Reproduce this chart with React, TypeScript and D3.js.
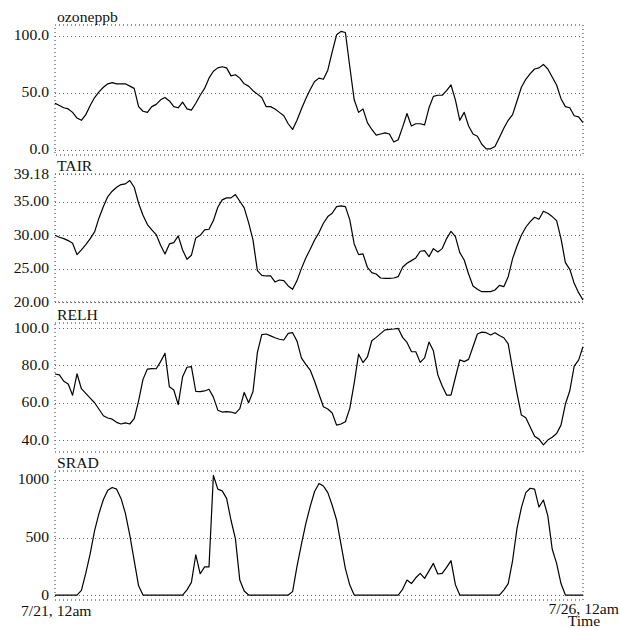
import React, { useEffect, useRef } from "react";
import * as d3 from "d3";

const width = 620;
const height = 628;
const left = 55;
const right = 583;

// hourly readings, 7/21 12am through 7/26 12am
const ozoneppb = [
  41, 39, 37, 36, 33, 28, 26, 31, 39, 46,
  51, 55, 58, 59, 58, 58, 58, 56, 54, 38,
  34, 33, 38, 40, 44, 46, 43, 38, 37, 42,
  36, 35, 41, 48, 54, 63, 69, 72, 73, 72,
  65, 66, 63, 58, 56, 52, 49, 46, 38, 38,
  36, 33, 30, 23, 18, 26, 36, 45, 53, 60,
  63, 62, 70, 86, 101, 104, 103, 73, 44, 33,
  36, 24, 18, 13, 14, 15, 14, 7, 9, 20,
  32, 21, 23, 23, 22, 37, 47, 48, 48, 52,
  57, 44, 26, 33, 21, 14, 12, 5, 1, 1,
  3, 11, 19, 26, 31, 43, 55, 62, 67, 71,
  72, 75, 71, 64, 57, 45, 38, 37, 30, 29,
  24,
];

const TAIR = [
  30.0, 29.7, 29.5, 29.2, 28.8, 27.1, 27.8, 28.6, 29.5, 30.5,
  32.6, 34.3, 35.8, 36.6, 37.2, 37.6, 37.7, 38.2, 37.2, 34.8,
  33.0, 31.6, 30.8, 30.1, 28.5, 27.2, 28.7, 28.9, 29.9, 27.8,
  26.4, 27.0, 29.6, 30.0, 30.8, 30.9, 32.2, 34.2, 35.3, 35.6,
  35.6, 36.1, 35.1, 34.1, 31.9, 29.3, 24.7, 24.0, 23.9, 23.9,
  23.0, 23.3, 23.2, 22.4, 21.9, 23.2, 25.0, 26.6, 27.9, 29.3,
  30.4, 31.8, 32.8, 33.3, 34.3, 34.4, 34.3, 32.3, 28.7, 27.1,
  27.2, 25.2, 24.4, 24.2, 23.6, 23.55, 23.55, 23.6, 23.8, 25.2,
  25.8, 26.2, 26.6, 27.6, 27.7, 26.8, 28.0, 27.5, 28.0, 29.5,
  30.6, 29.8, 27.4, 26.3, 24.2, 22.4, 21.9, 21.55, 21.55, 21.55,
  21.8, 22.5, 22.3, 23.8, 26.5, 28.4, 30.0, 31.2, 32.05, 32.7,
  32.4, 33.6, 33.3, 32.8, 32.2, 29.5, 25.9, 24.9, 22.8, 21.4,
  20.3,
];

const RELH = [
  75.4, 74.9, 71.5, 70, 64, 75.5, 67.5, 65, 62.5, 60,
  56.5, 53, 51.8, 51.2, 49.5, 48.6, 49.2, 48.6, 51.5, 61,
  72.5, 78, 78.3, 78.2, 82, 86.5, 68.5, 66.8, 59, 73.9,
  79, 79.3, 66, 65.9, 66.3, 67.2, 63, 56, 55, 55.2,
  55, 54.3, 56.8, 65.5, 60, 66, 87, 96.5, 96.8, 95.8,
  94.8, 94, 93.6, 97.1, 97.5, 93, 84, 80.5, 77.5, 71.5,
  64.5, 57.8, 56.6, 54.5, 48, 48.6, 49.8, 57, 70.5, 86,
  81.5, 84.5, 93.2, 95, 97, 99, 99.3, 99.5, 99.8, 95,
  92.3, 87.4, 87.3, 81.6, 84, 92.5, 87.8, 75, 69, 64.1,
  64.1, 73.5, 83, 82, 83.2, 90, 96.8, 97.8, 97.5, 96.3,
  97.5, 96, 94.8, 91.5, 78, 65, 53.4, 52, 47, 42,
  40.5, 37.4, 40, 41.5, 43.5, 48, 59.3, 66.4, 79.6, 82.8,
  90,
];

const SRAD = [
  0, 0, 0, 0, 0, 0, 40, 190, 360, 560,
  710, 830, 910, 935, 920, 840, 710, 520, 300, 80,
  0, 0, 0, 0, 0, 0, 0, 0, 0, 0,
  45, 110, 350, 185, 245, 245, 1040, 920, 905, 840,
  650, 490, 130, 35, 0, 0, 0, 0, 0, 0,
  0, 0, 0, 0, 30, 250, 440, 620, 770, 900,
  970, 948, 890, 780, 652, 440, 230, 87, 0, 0,
  0, 0, 0, 0, 0, 0, 0, 0, 0, 50,
  130, 100, 150, 188, 145, 210, 275, 183, 188, 240,
  299, 90, 0, 0, 0, 0, 0, 0, 0, 0,
  0, 0, 43, 100, 300, 580, 760, 890, 928, 920,
  765, 826, 690, 400, 275, 100, 0, 0, 0, 0,
  0,
];

const ozoneTicks = [0, 50, 100];
const tairTicks = [20, 25, 30, 35, 39.18];
const relhTicks = [40, 60, 80, 100];
const sradTicks = [0, 500, 1000];

const startLabel = "7/21, 12am";
const endLabel = "7/26, 12am";
const axisTitle = "Time";

const start = new Date(2003, 6, 21, 0, 0);
const end = new Date(2003, 6, 26, 0, 0);

const panels = [
  { name: "ozoneppb", values: ozoneppb, domain: [-4.4, 109.6], ticks: ozoneTicks, fmt: d3.format(".1f"), top: 25, bottom: 155 },
  { name: "TAIR", values: TAIR, domain: [20, 39.18], ticks: tairTicks, fmt: d3.format(".2f"), top: 174, bottom: 302 },
  { name: "RELH", values: RELH, domain: [33.6, 102.7], ticks: relhTicks, fmt: d3.format(".1f"), top: 323, bottom: 452 },
  { name: "SRAD", values: SRAD, domain: [-43, 1078], ticks: sradTicks, fmt: d3.format("d"), top: 471, bottom: 600 },
];

const font = "Liberation Serif, Times New Roman, Times, serif";
const fontSize = 14;
const stretch = 1.12;

export default function App() {
  const ref = useRef<SVGSVGElement>(null);

  useEffect(() => {
    const svg = d3.select(ref.current);
    svg.selectAll("*").remove();

    const x = d3.scaleTime().domain([start, end]).range([left, right]);

    const label = (g: any, tx: number, ty: number, anchor: string, txt: string) =>
      g.append("text")
        .attr("transform", `translate(${tx},${ty}) scale(${stretch},1)`)
        .attr("text-anchor", anchor)
        .style("font-family", font)
        .style("font-size", fontSize + "px")
        .attr("fill", "#111")
        .text(txt);

    panels.forEach((p) => {
      const y = d3.scaleLinear().domain(p.domain).range([p.bottom, p.top]);
      const g = svg.append("g");

      g.append("rect")
        .attr("x", left)
        .attr("y", p.top)
        .attr("width", right - left)
        .attr("height", p.bottom - p.top)
        .attr("fill", "none")
        .attr("stroke", "#333")
        .attr("stroke-dasharray", "1,3");

      g.selectAll(".grid")
        .data(p.ticks)
        .join("line")
        .attr("class", "grid")
        .attr("x1", left)
        .attr("x2", right)
        .attr("y1", (d) => Math.round(y(d)) + 0.5)
        .attr("y2", (d) => Math.round(y(d)) + 0.5)
        .attr("stroke", "#666")
        .attr("stroke-dasharray", "1,3");

      p.ticks.forEach((t) => label(g, 49, y(t) + 4.5, "end", p.fmt(t)));

      label(g, left + 2, p.top - 3, "start", p.name);

      const line = d3.line<number>()
        .x((d, i) => x(d3.timeHour.offset(start, i)))
        .y((d) => y(d));

      g.append("path")
        .datum(p.values)
        .attr("fill", "none")
        .attr("stroke", "#000")
        .attr("stroke-width", 1.2)
        .attr("stroke-linejoin", "round")
        .attr("d", line);
    });

    label(svg, 21, 616, "start", startLabel);
    label(svg, 619, 614, "end", endLabel);
    label(svg, 584, 626, "middle", axisTitle);
  }, []);

  return (
    <div style={{ position: "absolute", left: 0, top: 0 }}>
      <svg ref={ref} width={width} height={height} style={{ display: "block", background: "#fff" }} />
    </div>
  );
}
